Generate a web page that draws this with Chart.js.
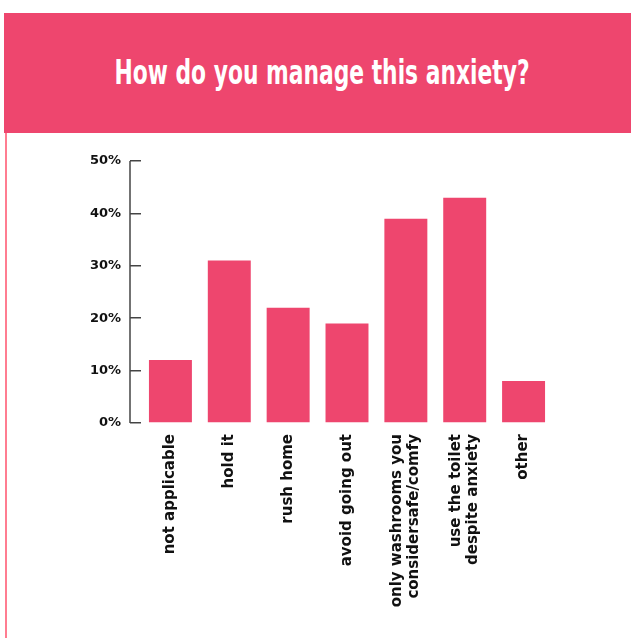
<!DOCTYPE html>
<html>
<head>
<meta charset="utf-8">
<script src="https://cdn.jsdelivr.net/npm/chart.js@4"></script>
<style>
  html, body { margin: 0; padding: 0; background: #fff; }
  body { width: 631px; height: 638px; position: relative; overflow: hidden; }
  .head {
    position: absolute; left: 4px; top: 13px; width: 627px; height: 120px;
    background: #ee466e;
  }
  .head .title {
    position: absolute; left: 10px; right: 0; top: 39px; text-align: center;
    color: #fff; font-family: "DejaVu Sans Condensed", "DejaVu Sans", sans-serif;
    font-weight: bold; font-size: 34px; line-height: 40px; white-space: nowrap;
  }
  .head .title span { display: inline-block; transform-origin: center; }
  .edge { position: absolute; left: 5px; top: 133px; width: 2px; height: 505px; background: #ff7d91; }
  canvas { position: absolute; left: 0; top: 0; }
</style>
</head>
<body>
<div class="head"><div class="title"><span id="ttl">How do you manage this anxiety?</span></div></div>
<div class="edge"></div>
<canvas id="bar-chart" width="631" height="638"></canvas>
<script>
let categories = [
  'not applicable',
  'hold it',
  'rush home',
  'avoid going out',
  ['only washrooms you', 'considersafe/comfy'],
  ['use the toilet', 'despite anxiety'],
  'other'
]
let values = [12, 31, 22, 19, 39, 43, 8]
let yTicks = ['0%', '10%', '20%', '30%', '40%', '50%']

let pink = '#ee466e'
let tickLen = 11
let labelFont = 'bold 15px "DejaVu Sans"'
let labelLine = 17

// the original title font is very condensed, squeeze ours to the same width
let ttl = document.getElementById('ttl')
ttl.style.transform = 'scaleX(' + (415 / ttl.offsetWidth) + ')'

// vertical axis line sits left of the tick marks
let axisLine = {
  id: 'axisLine',
  afterDraw(chart){
    let y = chart.scales.y
    let x = chart.chartArea.left - tickLen
    let ctx = chart.ctx
    ctx.save()
    ctx.strokeStyle = '#444'
    ctx.lineWidth = 1.5
    ctx.beginPath()
    ctx.moveTo(x, y.top)
    ctx.lineTo(x, y.bottom)
    ctx.stroke()
    ctx.restore()
  }
}

// rotated category labels, multi line ones centred on their bar
let xLabels = {
  id: 'xLabels',
  afterDraw(chart){
    let sx = chart.scales.x
    let ctx = chart.ctx
    ctx.save()
    ctx.font = labelFont
    ctx.fillStyle = '#111'
    ctx.textAlign = 'right'
    ctx.textBaseline = 'middle'
    chart.data.labels.forEach((lab, i) => {
      let lines = Array.isArray(lab) ? lab : [lab]
      ctx.save()
      ctx.translate(sx.getPixelForTick(i), sx.top + 11)
      ctx.rotate(-Math.PI / 2)
      lines.forEach((t, j) => {
        ctx.fillText(t, 0, (j - (lines.length - 1) / 2) * labelLine)
      })
      ctx.restore()
    })
    ctx.restore()
  }
}

new Chart(document.getElementById('bar-chart'), {
  type: 'bar',
  data: {
    labels: categories,
    datasets: [{
      data: values,
      backgroundColor: pink,
      barPercentage: 0.73,
      categoryPercentage: 1
    }]
  },
  options: {
    responsive: false,
    animation: false,
    layout: { padding: { top: 161, right: 78, left: 0, bottom: 0 } },
    plugins: { legend: { display: false }, tooltip: { enabled: false } },
    scales: {
      x: {
        grid: { display: false },
        border: { display: false },
        ticks: { display: false },
        afterFit(s){ s.height = 638 - 423 }
      },
      y: {
        min: 0, max: 50,
        grid: { drawOnChartArea: false, tickLength: tickLen, color: '#444', lineWidth: 1.5 },
        border: { display: false },
        ticks: {
          stepSize: 10,
          color: '#111',
          padding: 9,
          font: { family: 'DejaVu Sans', weight: 'bold', size: 13 },
          callback: (v, i) => yTicks[v / 10]
        },
        afterFit(s){ s.width = 141 }
      }
    }
  },
  plugins: [axisLine, xLabels]
})
</script>
</body>
</html>
